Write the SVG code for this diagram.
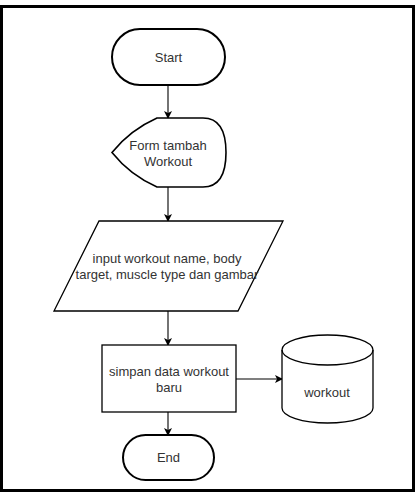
<svg xmlns="http://www.w3.org/2000/svg" width="418" height="497" viewBox="0 0 418 497">
<style>
.s{fill:#fff;stroke:#000;stroke-width:1.3}
.b{stroke-width:2}
.t{font-family:"Liberation Sans",Arial,sans-serif;font-size:13px;fill:#333;text-anchor:middle}
.c{fill:none;stroke:#000;stroke-width:1.1}
</style>
<defs>
<marker id="a" markerWidth="8" markerHeight="8" refX="7" refY="4" orient="auto" markerUnits="userSpaceOnUse">
<path d="M0,0 L8,4 L0,8 L2,4 Z" fill="#000"/>
</marker>
</defs>
<rect x="0" y="0" width="418" height="497" fill="#fff"/>
<rect x="1.5" y="6.5" width="412" height="484" fill="none" stroke="#000" stroke-width="3"/>
<g id="connectors">
<line class="c" x1="168" y1="85" x2="168" y2="118" marker-end="url(#a)"/>
<line class="c" x1="168" y1="187" x2="168" y2="221" marker-end="url(#a)"/>
<line class="c" x1="168" y1="311" x2="168" y2="345" marker-end="url(#a)"/>
<line class="c" x1="236" y1="379" x2="282" y2="379" marker-end="url(#a)"/>
<line class="c" x1="168" y1="412" x2="168" y2="435" marker-end="url(#a)"/>
</g>
<g id="start">
<rect class="s b" x="112" y="29" width="113" height="56" rx="28" ry="28"/>
<text class="t" x="168.5" y="62">Start</text>
</g>
<g id="form">
<path class="s" style="stroke-width:1.6" d="M157,118 L203,118 Q226,118 226,152.5 Q226,187 203,187 L157,187 Q130,175 112,152.5 Q130,130 157,118 Z"/>
<text class="t" x="168" y="150">Form tambah</text>
<text class="t" x="168" y="166">Workout</text>
</g>
<g id="input">
<path class="s" d="M99,221 L283,221 L238,311 L54,311 Z"/>
<text class="t" x="167" y="263">input workout name, body</text>
<text class="t" x="167" y="279">target, muscle type dan gambar</text>
</g>
<g id="simpan">
<rect class="s" x="102" y="345" width="134" height="67"/>
<text class="t" x="169" y="376">simpan data workout</text>
<text class="t" x="169" y="392">baru</text>
</g>
<g id="workout">
<path class="s" d="M282,350 A45.5,15 0 0 1 373,350 L373,408 A45.5,15 0 0 1 282,408 Z"/>
<path class="s" style="fill:none" d="M282,350 A45.5,15 0 0 0 373,350"/>
<text class="t" x="327" y="397">workout</text>
</g>
<g id="end">
<rect class="s b" x="123" y="435" width="91" height="45" rx="22.5" ry="22.5"/>
<text class="t" x="168.5" y="462">End</text>
</g>
</svg>
